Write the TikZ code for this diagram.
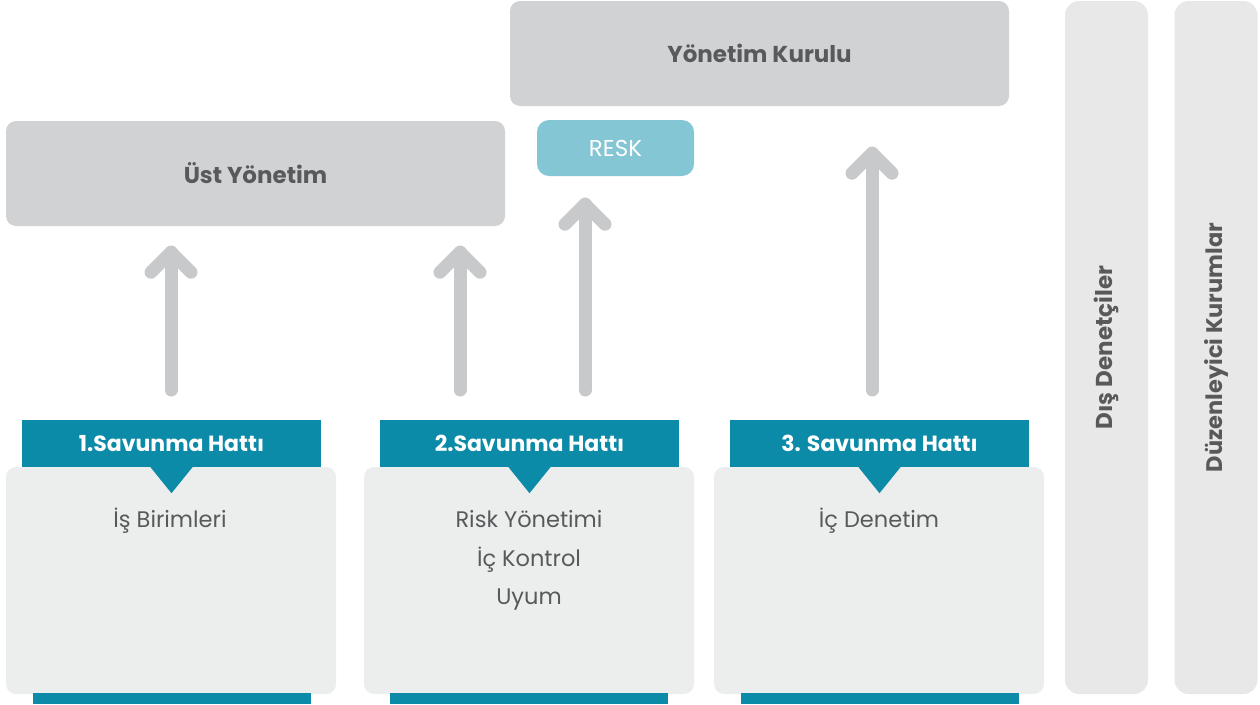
\documentclass[tikz,border=0pt]{standalone}
\usepackage{fontspec}
\setmainfont{Poppins}
\usetikzlibrary{calc}
\definecolor{tealc}{HTML}{0B8BA8}
\definecolor{grayc}{HTML}{D1D2D4}
\definecolor{lightc}{HTML}{ECEEEE}
\definecolor{colc}{HTML}{E8E8E8}
\definecolor{reskc}{HTML}{84C6D4}
\definecolor{arrc}{HTML}{C8C9CB}
\definecolor{txtc}{HTML}{58595B}
\tikzset{
  graybox/.style={rectangle, rounded corners=10pt, inner sep=0pt, fill=grayc, text=txtc, font=\fontsize{23}{26}\selectfont\bfseries},
  lightbox/.style={rectangle, rounded corners=10pt, inner sep=0pt, fill=lightc},
  colbox/.style={rectangle, rounded corners=14pt, inner sep=0pt, fill=colc, minimum width=83pt, minimum height=693pt},
  coltext/.style={rotate=90, text=txtc, font=\fontsize{23}{26}\selectfont\bfseries},
  header/.style={rectangle, inner sep=0pt, fill=tealc, text=white, minimum width=299pt, minimum height=47pt, font=\fontsize{22}{26}\selectfont\bfseries},
  bodytext/.style={text=txtc, font=\fontsize{22.5}{26}\selectfont, anchor=base},
  footbar/.style={rectangle, inner sep=0pt, fill=tealc, minimum width=278pt, minimum height=11pt},
  arrline/.style={draw=arrc, line width=13pt, line cap=round, line join=round},
}
\newcommand\notch[1]{\fill[tealc] ($(#1.south)+(-21,0)$) -- ($(#1.south)+(21,0)$) -- ($(#1.south)+(0,26)$) -- cycle;}
\newcommand\uparr[2]{\draw[arrline] (#1) -- (#2); \draw[arrline] ($(#2)+(-20,20)$) -- (#2) -- ($(#2)+(20,20)$);}
\begin{document}
\begin{tikzpicture}[x=1pt,y=-1pt]
\useasboundingbox (0,0) rectangle (1260,704);
% top boxes
\node[graybox, minimum width=499pt, minimum height=105pt] (kurul) at (759.5,53.5) {Yönetim Kurulu};
\node[graybox, minimum width=499pt, minimum height=105pt] (ust) at (255.5,173.5) {Üst Yönetim};
\node[rectangle, rounded corners=12pt, inner sep=0pt, fill=reskc, text=white, minimum width=157pt, minimum height=56pt, font=\fontsize{23}{26}\selectfont] (resk) at (615.5,148) {RESK};
% right columns
\node[colbox] (dis) at (1106.5,347.5) {};
\node[coltext] at (dis.center) {Dış Denetçiler};
\node[colbox] (duz) at (1216,347.5) {};
\node[coltext, font=\fontsize{22.5}{26}\selectfont\bfseries] at (duz.center) {Düzenleyici Kurumlar};
% light boxes
\node[lightbox, minimum width=330pt, minimum height=227pt] (b1) at (171,580.5) {};
\node[lightbox, minimum width=330pt, minimum height=227pt] (b2) at (529,580.5) {};
\node[lightbox, minimum width=330pt, minimum height=227pt] (b3) at (879,580.5) {};
% footer bars
\node[footbar, anchor=north] (f1) at (172,693) {};
\node[footbar, anchor=north] (f2) at (529,693) {};
\node[footbar, anchor=north] (f3) at (879.5,693) {};
% headers
\node[header] (h1) at (171.5,443.5) {1.Savunma Hattı};
\node[header] (h2) at (529.5,443.5) {2.Savunma Hattı};
\node[header] (h3) at (879.5,443.5) {3. Savunma Hattı};
\notch{h1}\notch{h2}\notch{h3}
% body text
\node[bodytext] (t1) at (170,527) {İş Birimleri};
\node[bodytext] (t2a) at (529,527) {Risk Yönetimi};
\node[bodytext] (t2b) at (529,566) {İç Kontrol};
\node[bodytext] (t2c) at (529,604) {Uyum};
\node[bodytext] (t3) at (879,527) {İç Denetim};
% arrows
\coordinate (a1s) at (171,390); \coordinate (a1e) at ($(a1s |- ust.south)+(0,26)$);
\coordinate (a2s) at (460,390); \coordinate (a2e) at ($(a2s |- ust.south)+(0,26)$);
\coordinate (a3s) at (585,390); \coordinate (a3e) at ($(a3s |- resk.south)+(0,28)$);
\coordinate (a4s) at (872,390); \coordinate (a4e) at ($(a4s |- kurul.south)+(0,47)$);
\uparr{a1s}{a1e}
\uparr{a2s}{a2e}
\uparr{a3s}{a3e}
\uparr{a4s}{a4e}
\end{tikzpicture}
\end{document}
